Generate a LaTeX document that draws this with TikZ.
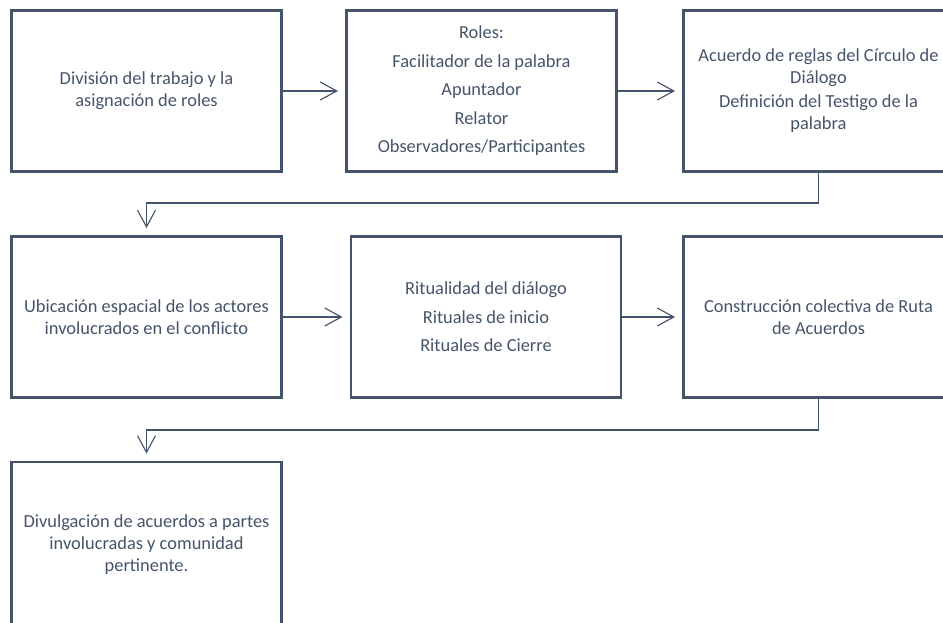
\documentclass[tikz,border=0pt]{standalone}
\usepackage{fontspec}
\setmainfont{Carlito}
\usetikzlibrary{arrows.meta}
\definecolor{slate}{HTML}{44546A}
\tikzset{
  stepbox/.style={draw=slate, line width=2.2pt, minimum width=202.5pt, minimum height=120.75pt,
    inner sep=0pt, align=center, text=slate, font=\fontsize{13.8pt}{16.5pt}\selectfont},
  conn/.style={draw=slate, line width=0.85pt, -{Straight Barb[length=12.5pt,width=13.5pt,line width=0.85pt]}, shorten >=5.25pt}
}
\begin{document}
\begin{tikzpicture}[x=0.75pt,y=-0.75pt]
\useasboundingbox (0,0) rectangle (943,623);
\clip (0,0) rectangle (943,623);
\node[stepbox] (b1) at (146.5,91) {División del trabajo y la\\asignación de roles};
\node[stepbox] (b2) at (481.5,91) {Roles:\\[4.9pt]Facilitador de la palabra\\[4.9pt]Apuntador\\[4.9pt]Relator\\[4.9pt]Observadores/Participantes};
\node[stepbox] (b3) at (818.5,91) {Acuerdo de reglas del Círculo de\\Diálogo\\[1.5pt]Definición del Testigo de la\\palabra};
\node[stepbox] (b4) at (146.5,317) {Ubicación espacial de los actores\\involucrados en el conflicto};
\node[stepbox] (b5) at (486,317) {Ritualidad del diálogo\\[4.9pt]Rituales de inicio\\[4.9pt]Rituales de Cierre};
\node[stepbox] (b6) at (818.5,317) {Construcción colectiva de Ruta\\de Acuerdos};
\node[stepbox, minimum height=124.5pt] (b7) at (146.5,545) {Divulgación de acuerdos a partes\\involucradas y comunidad\\pertinente.};
\draw[conn] (b1.east) -- (b2.west);
\draw[conn] (b2.east) -- (b3.west);
\draw[conn] (b4.east) -- (b5.west);
\draw[conn] (b5.east) -- (b6.west);
\draw[conn] (b3.south) -- ++(0,30) -| (b4.north);
\draw[conn] (b6.south) -- ++(0,31) -| (b7.north);
\end{tikzpicture}
\end{document}
